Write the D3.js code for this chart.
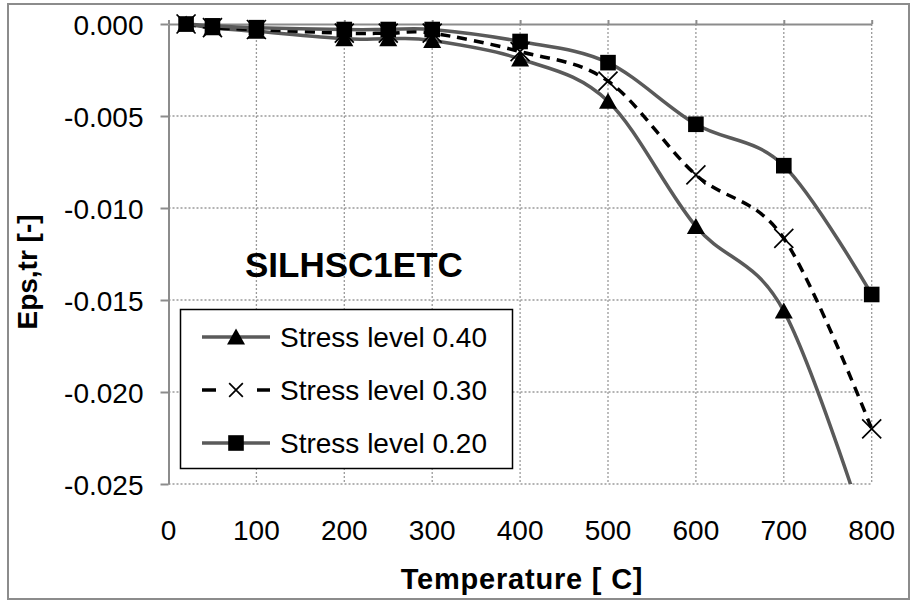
<!DOCTYPE html>
<html>
<head>
<meta charset="utf-8">
<script src="https://cdn.jsdelivr.net/npm/d3@7"></script>
<style>
  body { margin: 0; background: #fff; }
  text { font-family: Arial, "Liberation Sans", sans-serif; fill: #000; }
</style>
</head>
<body>
<script>
var temps = [20, 50, 100, 200, 250, 300, 400, 500, 600, 700, 800];
var stress40 = [0, -0.0002, -0.0004, -0.0008, -0.0008, -0.0009, -0.0019, -0.0042, -0.0110, -0.0156, -0.0285];
var stress30 = [0, -0.0002, -0.0003, -0.0005, -0.0005, -0.0005, -0.0015, -0.0031, -0.0082, -0.01165, -0.0220];
var stress20 = [0, -0.0001, -0.0002, -0.0003, -0.0003, -0.0003, -0.00095, -0.0021, -0.00545, -0.0077, -0.0147];
var seriesNames = ["Stress level 0.40", "Stress level 0.30", "Stress level 0.20"];
var xTicks = [0, 100, 200, 300, 400, 500, 600, 700, 800];
var yTicks = [0, -0.005, -0.010, -0.015, -0.020, -0.025];

var W = 913, H = 600;
var pLeft = 168.5, pRight = 871.7, pTop = 24, pBottom = 484;

var svg = d3.select("body").append("svg")
  .attr("width", W).attr("height", H);

// outer chart border
svg.append("rect")
  .attr("x", 8).attr("y", 4).attr("width", 901).attr("height", 595)
  .attr("fill", "#fff").attr("stroke", "#8c8c8c").attr("stroke-width", 2);

var x = d3.scaleLinear().domain([0, 800]).range([pLeft, pRight]);
var y = d3.scaleLinear().domain([-0.025, 0]).range([pBottom, pTop]);

svg.append("clipPath").attr("id", "plotclip")
  .append("rect").attr("x", pLeft - 10).attr("y", pTop - 10)
  .attr("width", pRight - pLeft + 22).attr("height", pBottom - pTop + 10);

// grid
var grid = svg.append("g");
grid.selectAll(".vg").data(xTicks.slice(1)).enter().append("line")
  .attr("x1", x).attr("x2", x).attr("y1", pTop).attr("y2", pBottom)
  .attr("stroke", "#9a9a9a").attr("stroke-width", 1.3).attr("stroke-dasharray", "2,2");
grid.selectAll(".hg").data(yTicks.slice(1)).enter().append("line")
  .attr("x1", pLeft).attr("x2", pRight).attr("y1", y).attr("y2", y)
  .attr("stroke", "#9a9a9a").attr("stroke-width", 1.3).attr("stroke-dasharray", "2,2");

// y axis (left)
var yAxis = svg.append("g")
  .attr("transform", "translate(" + pLeft + ",0)")
  .call(d3.axisLeft(y).tickValues(yTicks).tickSize(8).tickSizeOuter(0)
    .tickFormat(d3.format(".3f")));
yAxis.select(".domain").attr("stroke", "#8c8c8c").attr("stroke-width", 2);
yAxis.selectAll(".tick line").attr("stroke", "#8c8c8c").attr("stroke-width", 2);
yAxis.selectAll(".tick text")
  .attr("x", -25).attr("dy", "0.36em")
  .attr("fill", "#000")
  .style("font-size", "28px")
  .style("font-family", "Arial, 'Liberation Sans', sans-serif")
  .text(function (d) { return d3.format(".3f")(d).replace("−", "-"); });

// x axis line sits at y = 0 (top), labels at bottom
var xAxis = svg.append("g")
  .attr("transform", "translate(0," + pTop + ")")
  .call(d3.axisTop(x).tickValues(xTicks).tickSize(4).tickSizeOuter(0).tickFormat(""));
xAxis.select(".domain").attr("stroke", "#8c8c8c").attr("stroke-width", 2);
xAxis.selectAll(".tick line").attr("stroke", "#8c8c8c").attr("stroke-width", 2);

svg.append("g").selectAll("text").data(xTicks).enter().append("text")
  .attr("x", x).attr("y", 540)
  .attr("text-anchor", "middle")
  .style("font-size", "28px")
  .text(function (d) { return d; });

// axis titles
svg.append("text")
  .attr("x", 522).attr("y", 589)
  .attr("text-anchor", "middle")
  .style("font-size", "29px").style("font-weight", "bold")
  .style("letter-spacing", "0.8px")
  .text("Temperature [ C]");

svg.append("text")
  .attr("transform", "translate(37,272) rotate(-90)")
  .attr("text-anchor", "middle")
  .style("font-size", "28px").style("font-weight", "bold")
  .text("Eps,tr [-]");

// series
var series = [
  { name: seriesNames[0], values: stress40, marker: "triangle", color: "#5a5a5a", dash: null },
  { name: seriesNames[1], values: stress30, marker: "x", color: "#000", dash: "10,7" },
  { name: seriesNames[2], values: stress20, marker: "square", color: "#5a5a5a", dash: null }
];

var line = d3.line()
  .x(function (d) { return x(d[0]); })
  .y(function (d) { return y(d[1]); })
  .curve(d3.curveCardinal.tension(0));

var plot = svg.append("g").attr("clip-path", "url(#plotclip)");

series.forEach(function (s) {
  var pts = temps.map(function (t, i) { return [t, s.values[i]]; });
  plot.append("path")
    .datum(pts)
    .attr("d", line)
    .attr("fill", "none")
    .attr("stroke", s.color)
    .attr("stroke-width", 3.5)
    .attr("stroke-dasharray", s.dash);
});

function drawMarker(g, type, cx, cy, k) {
  k = k || 1;
  if (type === "triangle") {
    g.append("path")
      .attr("d", "M" + cx + "," + (cy - 8.5 * k) + "L" + (cx + 9 * k) + "," + (cy + 7.5 * k) + "L" + (cx - 9 * k) + "," + (cy + 7.5 * k) + "Z")
      .attr("fill", "#000");
  } else if (type === "square") {
    g.append("rect")
      .attr("x", cx - 7.8 * k).attr("y", cy - 7.8 * k).attr("width", 15.6 * k).attr("height", 15.6 * k)
      .attr("fill", "#000");
  } else {
    var r = 9.5 * k;
    g.append("path")
      .attr("d", "M" + (cx - r) + "," + (cy - r) + "L" + (cx + r) + "," + (cy + r) +
        "M" + (cx + r) + "," + (cy - r) + "L" + (cx - r) + "," + (cy + r))
      .attr("stroke", "#000").attr("stroke-width", 1.7).attr("fill", "none");
  }
}

series.forEach(function (s) {
  var g = plot.append("g");
  temps.forEach(function (t, i) {
    drawMarker(g, s.marker, x(t), y(s.values[i]));
  });
});

// chart label
svg.append("text")
  .attr("x", 245).attr("y", 277)
  .style("font-size", "35px").style("font-weight", "bold")
  .text("SILHSC1ETC");

// legend
var lg = svg.append("g");
lg.append("rect")
  .attr("x", 180.5).attr("y", 309.5).attr("width", 332).attr("height", 159)
  .attr("fill", "#fff").attr("stroke", "#000").attr("stroke-width", 1.5);

var rowY = [337, 390, 443];
series.forEach(function (s, i) {
  var cy = rowY[i];
  if (s.dash) {
    lg.append("line").attr("x1", 202).attr("x2", 216).attr("y1", cy).attr("y2", cy)
      .attr("stroke", s.color).attr("stroke-width", 3.5);
    lg.append("line").attr("x1", 257).attr("x2", 270).attr("y1", cy).attr("y2", cy)
      .attr("stroke", s.color).attr("stroke-width", 3.5);
  } else {
    lg.append("line").attr("x1", 202).attr("x2", 270).attr("y1", cy).attr("y2", cy)
      .attr("stroke", s.color).attr("stroke-width", 3.5);
  }
  drawMarker(lg.append("g"), s.marker, 236, cy, s.marker === "x" ? 0.72 : 1);
  lg.append("text")
    .attr("x", 280).attr("y", cy + 10)
    .style("font-size", "28px")
    .text(s.name);
});
</script>
</body>
</html>
